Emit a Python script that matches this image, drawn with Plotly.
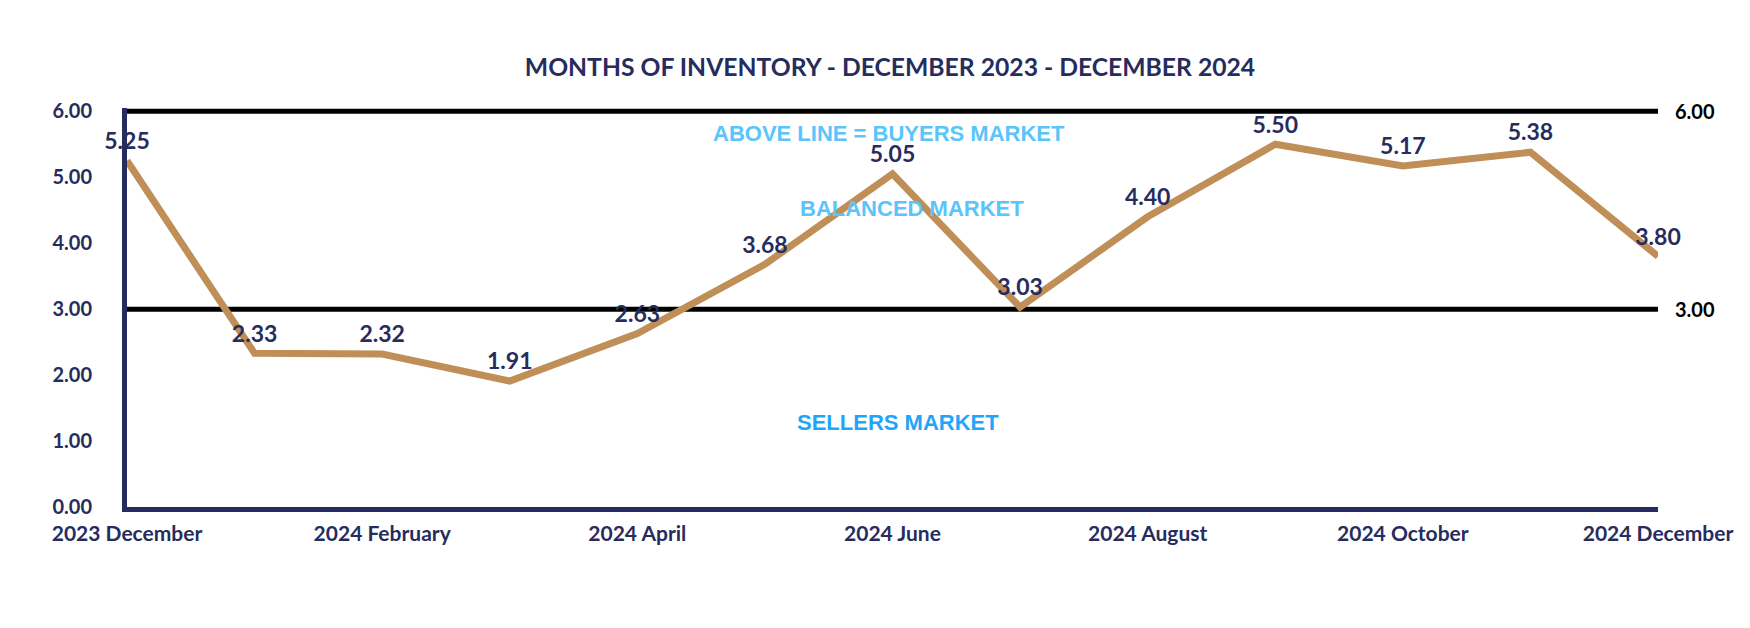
import plotly.graph_objects as go

months = ["2023 December", "2024 January", "2024 February", "2024 March", "2024 April",
          "2024 May", "2024 June", "2024 July", "2024 August", "2024 September",
          "2024 October", "2024 November", "2024 December"]
inventory = [5.25, 2.33, 2.32, 1.91, 2.63, 3.68, 5.05, 3.03, 4.40, 5.50, 5.17, 5.38, 3.80]
thresholds = [6.00, 3.00]
y_ticks = [0, 1, 2, 3, 4, 5, 6]
x_tick_labels = months[::2]

NAVY = "#262c5e"
GOLD = "#bf8f57"
FONT = "Lato"

OFF = 8  # page body margin offset
L, R, T, B = 127 - OFF, 92 + OFF, 108 - OFF, 121 + OFF
PW = 1750 - L - R
PH = 628 - T - B


def px(xp):
    return (xp - OFF - L) / PW


def py(yp):
    return (628 - B - (yp - OFF)) / PH


fig = go.Figure()
fig.add_trace(go.Scatter(
    x=months, y=inventory, mode="lines+markers+text",
    line=dict(color=GOLD, width=7),
    marker=dict(size=8, color="rgba(0,0,0,0)"),
    text=[f"{v:.2f}" for v in inventory], textposition="top center",
    textfont=dict(family=FONT, size=23, color=NAVY, weight="bold"),
    cliponaxis=False, hoverinfo="skip", showlegend=False,
))

for t in thresholds:
    fig.add_shape(type="line", xref="paper", yref="y", x0=0, x1=1, y0=t, y1=t,
                  line=dict(color="black", width=5), layer="below")
    fig.add_annotation(xref="paper", yref="y", x=1, y=t, text=f"{t:.2f}",
                       showarrow=False, xanchor="left", yanchor="middle", xshift=15,
                       font=dict(family=FONT, size=20, color="black", weight="bold"))

ann = dict(xref="paper", yref="paper", showarrow=False, xanchor="center", yanchor="middle")
fig.add_annotation(x=px(889), y=py(133), text="ABOVE LINE = BUYERS MARKET",
                   font=dict(family="Liberation Sans", size=22, color="#5ac4fb", weight="bold"), **ann)
fig.add_annotation(x=px(912), y=py(208), text="BALANCED MARKET",
                   font=dict(family="Liberation Sans", size=22, color="#5ac4fb", weight="bold"), **ann)
fig.add_annotation(x=px(898), y=py(422), text="SELLERS MARKET",
                   font=dict(family="Liberation Sans", size=22, color="#1fa6fb", weight="bold"), **ann)

fig.update_layout(
    width=1750, height=628,
    paper_bgcolor="white", plot_bgcolor="white",
    margin=dict(l=L, r=R, t=T, b=B, autoexpand=False),
    title=dict(text="MONTHS OF INVENTORY - DECEMBER 2023 - DECEMBER 2024",
               x=(890 - OFF) / 1750, xanchor="center", y=1 - (67 - OFF) / 628, yanchor="middle",
               font=dict(family=FONT, size=24.7, color=NAVY, weight="bold")),
    xaxis=dict(type="category", categoryorder="array", categoryarray=months,
               range=[0, len(months) - 1], tickvals=x_tick_labels, ticktext=x_tick_labels,
               showgrid=False, zeroline=False, showline=True, linecolor=NAVY, linewidth=5,
               ticks="", ticklabelstandoff=4, automargin=False,
               tickfont=dict(family=FONT, size=21, color=NAVY, weight="bold")),
    yaxis=dict(range=[0, 6.05], tickvals=y_ticks, tickformat=".2f",
               showgrid=False, zeroline=False, showline=True, linecolor=NAVY, linewidth=5,
               ticks="", ticklabelstandoff=26, automargin=False,
               tickfont=dict(family=FONT, size=20, color=NAVY, weight="bold")),
)

fig.write_html("out.html")
